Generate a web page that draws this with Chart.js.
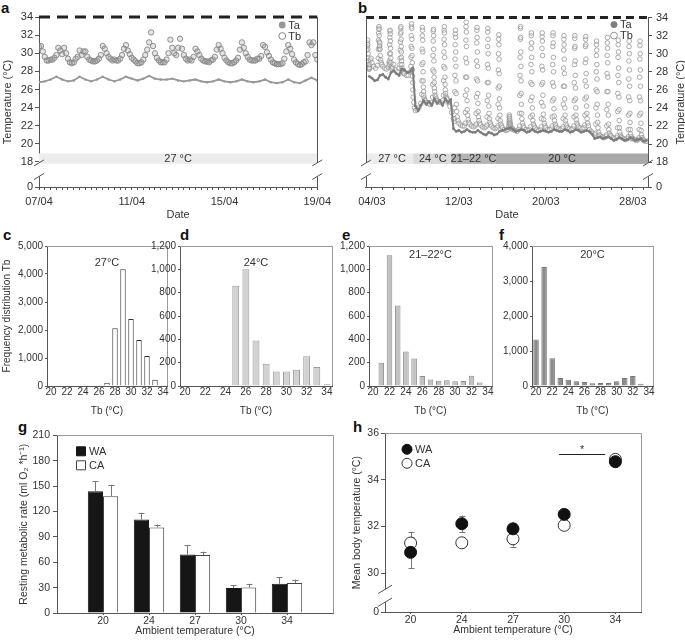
<!DOCTYPE html>
<html>
<head>
<meta charset="utf-8">
<script src="https://cdn.jsdelivr.net/npm/chart.js@4.4.1/dist/chart.umd.min.js"></script>
<style>
  body { margin: 0; background: #fff; width: 685px; height: 642px; position: relative; overflow: hidden;
         font-family: "Liberation Sans", Arial, sans-serif; }
  canvas { position: absolute; }
  .pl { position: absolute; font-weight: bold; font-size: 15px; line-height: 15px; color: #111; }
</style>
</head>
<body>
<div class="pl" style="left:1px;top:0px">a</div>
<div class="pl" style="left:358px;top:0px">b</div>
<div class="pl" style="left:3px;top:227px">c</div>
<div class="pl" style="left:180px;top:227px">d</div>
<div class="pl" style="left:342px;top:227px">e</div>
<div class="pl" style="left:499px;top:227px">f</div>
<div class="pl" style="left:18px;top:419px">g</div>
<div class="pl" style="left:353px;top:419px">h</div>
<canvas id="cA"></canvas><canvas id="cB"></canvas>
<canvas id="cC"></canvas><canvas id="cD"></canvas><canvas id="cE"></canvas><canvas id="cF"></canvas>
<canvas id="cG"></canvas><canvas id="cH"></canvas>
<script>
// ---------------- data ----------------
// a: 07/04 - 19/04 at 27 °C. Tb every 2 h, Ta every 6 h
const tbA = [
  30.7, 30.8, 30.2, 29.6, 29.2, 29.2, 29.3, 29.3, 29.5, 29.8, 30.6, 30.3,
  29.9, 30.6, 30.0, 29.4, 29.0, 28.9, 29.0, 29.4, 29.6, 30.3, 29.8, 30.2,
  30.2, 29.6, 29.3, 29.2, 29.1, 29.1, 29.2, 29.4, 29.8, 30.8, 30.5, 30.0,
  29.6, 29.4, 29.2, 29.3, 29.2, 29.2, 29.4, 29.8, 30.5, 30.9, 30.3, 29.9,
  29.5, 29.3, 29.1, 28.9, 28.9, 29.0, 29.3, 29.8, 30.4, 31.2, 32.3, 30.8,
  30.0, 29.5, 29.2, 29.0, 29.0, 29.0, 29.3, 30.0, 31.5, 30.6, 30.0, 29.8,
  30.6, 31.6, 30.5, 29.8, 29.4, 29.2, 29.3, 29.2, 29.6, 30.5, 30.2, 29.8,
  29.4, 29.2, 29.1, 29.1, 29.0, 29.2, 29.3, 29.6, 30.4, 30.9, 30.5, 30.0,
  29.5, 29.2, 29.0, 28.9, 28.9, 29.0, 29.2, 29.5, 30.4, 31.2, 30.6, 30.0,
  29.6, 29.3, 29.2, 29.2, 29.2, 29.4, 29.4, 29.7, 30.9, 30.7, 30.1, 29.7,
  29.3, 29.0, 28.9, 28.8, 28.8, 28.8, 28.9, 29.4, 30.2, 30.9, 30.5, 29.9,
  29.3, 29.0, 28.8, 28.7, 28.8, 29.0, 29.1, 29.8, 31.2, 30.9, 31.2, 29.8,
  29.3
];
const taA = [
  26.8, 26.9, 27.1, 27.4,  27.1, 26.9, 27.0, 27.4,  27.1, 26.9, 27.1, 27.4,
  27.1, 26.9, 27.1, 27.4,  27.2, 27.0, 27.2, 27.5,  27.2, 27.1, 27.1, 27.2,
  27.0, 26.9, 27.0, 27.1,  26.9, 26.8, 26.9, 27.1,  26.9, 26.8, 26.9, 27.1,
  26.9, 26.8, 26.9, 27.1,  26.8, 26.7, 26.8, 27.1,  26.8, 26.7, 27.0, 27.3,
  27.0
];

// b: 03/03 - 29/03, stepped down 27 -> 24 -> 21-22 -> 20 °C
// Tb logged at these hours of each day (denser around the daily arousal)
const tbBHours = [0, 4, 8, 12, 14, 14.3, 14.6, 14.9, 15.2, 15.5, 15.8, 16.1, 16.4, 16.7, 17.0, 17.3, 17.6, 18.0, 18.5, 19.2, 20.5, 22];
const tbBFirstDay = 3;
const tbB = [
  [null, null, null, 30.4, 30.8, 31.2, 31.5, 31.0, 30.5, 30.0, 29.5, 29.2, 28.8, 28.5, 28.4, 28.3, 28.4, 28.3, 28.5, 28.8, 29.3, 29.5],
  [29.0, 28.6, 28.4, 28.7, 29.5, 30.5, 31.5, 32.3, 32.8, 33.0, 32.7, 32.0, 31.3, 30.8, 30.5, 30.9, 31.2, 30.5, 29.8, 29.3, 29.0, 28.8],
  [28.6, 28.4, 28.3, 28.5, 29.0, 28.8, 29.2, 30.0, 31.0, 31.8, 32.5, 32.6, 32.2, 31.4, 30.6, 30.0, 29.5, 29.0, 28.6, 28.4, 28.3, 28.5],
  [28.8, 28.2, 28.0, 28.4, 28.8, 29.5, 30.4, 31.3, 32.2, 32.8, 33.0, 32.4, 31.6, 30.8, 30.2, 29.6, 29.2, 28.8, 28.4, 28.2, 28.0, 27.8],
  [27.8, 27.6, 27.6, 28.0, 28.6, 29.6, 30.8, 32.0, 33.0, 33.3, 32.8, 31.6, 30.6, 29.8, 29.0, 28.2, 27.5, 26.8, 26.0, 25.2, 24.6, 24.0],
  [23.7, 23.8, 24.0, 24.5, 25.5, 27.0, 28.8, 30.5, 32.0, 32.9, 32.6, 31.5, 30.2, 29.0, 28.0, 27.0, 26.3, 25.8, 25.4, 25.1, 24.9, 24.8],
  [24.6, 24.5, 24.4, 24.6, 25.2, 26.6, 28.2, 29.8, 31.4, 32.5, 32.7, 32.0, 30.5, 29.2, 28.0, 27.4, 26.8, 26.2, 25.8, 25.4, 25.2, 25.0],
  [24.8, 24.7, 24.6, 24.8, 25.4, 27.0, 28.6, 30.2, 31.6, 32.6, 33.0, 32.3, 31.0, 29.6, 28.4, 27.4, 26.6, 26.0, 25.6, 25.3, 25.1, 25.0],
  [24.6, 24.2, 23.5, 22.8, 22.5, 22.8, 24.0, 25.8, 27.6, 29.4, 31.0, 32.2, 32.6, 31.8, 30.2, 28.6, 27.0, 25.6, 24.4, 23.6, 23.0, 22.6],
  [22.3, 22.1, 22.0, 22.0, 22.3, 23.5, 25.4, 27.4, 29.5, 31.5, 33.0, 33.5, 32.4, 30.8, 29.0, 27.4, 26.0, 24.8, 23.8, 23.2, 22.7, 22.4],
  [22.2, 22.0, 21.9, 22.0, 22.2, 23.4, 25.2, 27.2, 29.2, 31.2, 32.6, 32.9, 31.8, 30.2, 28.6, 27.0, 25.6, 24.5, 23.6, 23.0, 22.6, 22.3],
  [22.1, 21.9, 21.8, 21.9, 22.1, 23.0, 24.8, 26.8, 28.8, 30.8, 32.4, 32.8, 31.6, 30.0, 28.4, 26.8, 25.4, 24.2, 23.4, 22.8, 22.4, 22.2],
  [22.0, 21.8, 21.7, 21.8, 22.0, 22.8, 24.4, 26.2, 28.2, 30.0, 31.6, 32.1, 31.0, 29.4, 27.8, 26.4, 25.0, 24.0, 23.2, 22.6, 22.2, 22.0],
  [21.8, 21.6, 21.5, 21.6, 21.8, 22.0, 22.3, 22.6, 23.0, 23.2, 23.0, 22.8, 22.6, 22.4, 22.3, 22.2, 22.1, 22.0, 21.9, 21.8, 21.7, 21.7],
  [21.6, 21.5, 21.4, 21.6, 22.0, 23.4, 25.4, 27.6, 29.6, 31.6, 32.8, 33.0, 31.8, 30.2, 28.6, 27.0, 25.6, 24.4, 23.4, 22.8, 22.3, 22.0],
  [21.8, 21.6, 21.5, 21.6, 21.9, 23.0, 24.8, 26.8, 28.8, 30.6, 32.0, 32.3, 31.2, 29.6, 28.0, 26.6, 25.2, 24.0, 23.2, 22.6, 22.2, 22.0],
  [21.8, 21.6, 21.5, 21.6, 21.9, 22.8, 24.6, 26.6, 28.6, 30.6, 31.9, 32.3, 31.4, 29.8, 28.2, 26.8, 25.4, 24.2, 23.3, 22.7, 22.3, 22.0],
  [21.8, 21.6, 21.6, 21.7, 22.0, 23.0, 24.8, 26.8, 28.8, 30.8, 32.0, 32.3, 31.2, 29.6, 28.0, 26.4, 25.0, 23.9, 23.1, 22.6, 22.2, 22.0],
  [21.8, 21.7, 21.6, 21.7, 21.9, 22.8, 24.4, 26.4, 28.4, 30.4, 31.6, 32.0, 31.0, 29.4, 27.8, 26.4, 25.0, 24.0, 23.2, 22.6, 22.2, 22.0],
  [21.8, 21.7, 21.6, 21.7, 22.0, 23.0, 24.8, 26.8, 28.8, 30.6, 31.7, 32.0, 30.8, 29.2, 27.6, 26.2, 25.0, 24.0, 23.2, 22.7, 22.3, 22.1],
  [21.9, 21.8, 21.7, 21.8, 22.1, 23.2, 25.0, 27.0, 29.0, 30.8, 31.6, 31.9, 31.0, 29.4, 27.8, 26.4, 25.2, 24.2, 23.4, 22.8, 22.3, 22.0],
  [21.6, 21.4, 21.2, 21.0, 21.2, 22.2, 24.0, 26.0, 28.0, 29.8, 31.0, 31.4, 30.4, 28.8, 27.2, 25.8, 24.4, 23.2, 22.4, 21.8, 21.3, 21.0],
  [20.9, 20.8, 20.7, 20.8, 21.0, 22.0, 23.8, 25.8, 27.8, 29.8, 31.2, 31.8, 30.6, 29.0, 27.4, 25.8, 24.4, 23.2, 22.2, 21.6, 21.2, 21.0],
  [20.9, 20.7, 20.6, 20.7, 20.9, 21.8, 23.6, 25.6, 27.6, 29.6, 31.0, 31.5, 30.2, 28.4, 26.8, 25.2, 23.8, 22.6, 21.8, 21.3, 21.0, 20.8],
  [20.7, 20.6, 20.5, 20.6, 20.8, 21.6, 23.2, 25.2, 27.2, 29.2, 30.8, 31.4, 30.0, 28.2, 26.4, 24.8, 23.4, 22.4, 21.6, 21.1, 20.8, 20.6],
  [20.6, 20.5, 20.4, 20.5, 20.7, 21.6, 23.2, 25.2, 27.4, 29.4, 30.9, 31.4, 30.0, 28.2, 26.4, 24.8, 23.4, 22.3, 21.5, 21.0, 20.7, 20.5],
  [20.4, 20.3, 20.3, null, null, null, null, null, null, null, null, null, null, null, null, null, null, null, null, null, null, null]
];
// Ta in b every 6 h starting 03/03 18:00
const taBStart = 3.75;
const taB = [
  27.5,
  27.3, 27.0, 27.1, 27.6,  27.7, 27.4, 27.2, 27.9,  28.1, 27.8, 27.6, 28.3,  28.2, 27.9, 28.0, 28.4,
  24.2, 23.7, 24.3, 24.8,  24.4, 24.7, 24.3, 25.0,  24.5, 24.8, 24.3, 25.0,  24.6, 24.9, 21.7, 21.4,
  21.5, 21.3, 21.4, 21.6,  21.4, 21.3, 21.3, 21.5,  21.3, 21.1, 21.0, 21.3,  21.2, 21.0, 21.1, 21.4,
  21.5, 21.6, 21.7, 21.8,  21.6, 21.4, 21.5, 21.6,  21.5, 21.3, 21.4, 21.6,  21.4, 21.3, 21.4, 21.5,
  21.4, 21.3, 21.4, 21.6,  21.5, 21.4, 21.4, 21.6,  21.5, 21.3, 21.4, 21.6,  21.5, 21.3, 21.4, 21.5,
  21.4, 21.1, 20.6, 20.7,  20.8, 20.6, 20.7, 20.8,  20.6, 20.4, 20.5, 20.7,  20.6, 20.4, 20.5, 20.7,
  20.6, 20.4, 20.5, 20.6,  20.3, 20.4
];
const tempTicks = [18, 20, 22, 24, 26, 28, 30, 32, 34];

// ambient regimes shown as the grey bar
const bandALabels = ['27 °C'], bandAFrom = [7], bandATo = [19], bandAAt = [13], bandAColors = ['#ededed'];
const bandBLabels = ['27 °C', '24 °C', '21–22 °C', '20 °C'];
const bandBFrom = [3.45, 7.8, 11.3, 15.4], bandBTo = [7.8, 11.3, 15.4, 29.4], bandBAt = [5.85, 9.6, 13.35, 21.5];
const bandBColors = ['#ececec', '#dadada', '#b3b3b3', '#a9a9a9'];

// c-f: frequency distribution of Tb
const tbBins = ['20', '21', '22', '23', '24', '25', '26', '27', '28', '29', '30', '31', '32', '33', '34'];
const freq27 = [0, 0, 0, 0, 0, 0, 0, 120, 2060, 4170, 2390, 1640, 1070, 225, 25];
const freq24 = [0, 0, 0, 0, 0, 860, 1000, 390, 190, 125, 125, 140, 255, 163, 14];
const freq21 = [0, 200, 1120, 690, 295, 235, 85, 55, 45, 50, 40, 42, 88, 30, 0];
const freq20 = [1330, 3400, 795, 230, 182, 135, 115, 78, 87, 87, 135, 230, 288, 67, 10];

// g, h: warm (WA) vs cold (CA) acclimated
const ambient = ['20', '24', '27', '30', '34'];
const rmrWA = [144, 110.5, 69, 29.5, 34.5], rmrWAErr = [11.5, 8, 11.5, 3.5, 7.5];
const rmrCA = [138, 101, 68.5, 30, 35.5], rmrCAErr = [13.5, 3.5, 4, 4.5, 4];
const tbWA = [30.89, 32.12, 31.9, 32.52, 34.78], tbWAErr = [0.68, 0.35, 0.27, 0.08, 0.08];
const tbCA = [31.29, 31.3, 31.47, 32.05, 34.88], tbCAErr = [0.47, 0.08, 0.33, 0.08, 0.08];
const sigFrom = 2.9, sigTo = 3.8, sigLevel = 35.1;

// ---------------- helpers ----------------
const FONT = '"Liberation Sans", Arial, sans-serif';
const AXIS = '#555', FRAME = '#9a9a9a', TXT = '#333';
Chart.defaults.font.family = FONT;
Chart.defaults.font.size = 10;
Chart.defaults.color = TXT;
Chart.defaults.animation = false;
Chart.defaults.plugins.legend.display = false;
Chart.defaults.plugins.tooltip.enabled = false;

function place(id, l, t, w, h) {
  const c = document.getElementById(id);
  c.width = w; c.height = h;
  Object.assign(c.style, { left: l + 'px', top: t + 'px', width: w + 'px', height: h + 'px' });
  return c;
}
const pad2 = n => String(Math.round(n)).padStart(2, '0');
const px = v => Math.round(v) + 0.5;

function drawBreak(ctx, x, y1, y2, w) {
  ctx.save();
  ctx.fillStyle = '#fff';
  ctx.fillRect(x - 2, y1, 4, y2 - y1);
  ctx.strokeStyle = AXIS; ctx.lineWidth = 1;
  [y1, y2].forEach(y => {
    ctx.beginPath(); ctx.moveTo(x - w, y + w * 0.6); ctx.lineTo(x + w, y - w * 0.6); ctx.stroke();
  });
  ctx.restore();
}

function frame(ctx, ca, sides) {
  ctx.save();
  ctx.strokeStyle = FRAME; ctx.lineWidth = 1;
  ctx.beginPath();
  if (sides.includes('top')) { ctx.moveTo(ca.left, px(ca.top)); ctx.lineTo(ca.right, px(ca.top)); }
  if (sides.includes('right')) { ctx.moveTo(px(ca.right), ca.top); ctx.lineTo(px(ca.right), ca.bottom); }
  ctx.stroke();
  ctx.restore();
}

// ---------------- a, b : temperature traces ----------------
const Y_BREAK = 15.24;   // where "0" sits below the axis break
const BAND_LO = 17.8, BAND_HI = 18.95;

function tempAxis(position, width) {
  return {
    type: 'linear', position, min: Y_BREAK, max: 34,
    afterBuildTicks: s => { s.ticks = [Y_BREAK, ...tempTicks].map(value => ({ value })); },
    afterFit: s => { s.width = width; },
    border: { color: AXIS },
    grid: { drawOnChartArea: false, color: AXIS, tickLength: 4 },
    ticks: { padding: position === 'left' ? 2 : 4, font: { size: 11 }, callback: v => v === Y_BREAK ? '0' : v },
    title: { display: position === 'left', text: 'Temperature (°C)', font: { size: 11 }, padding: { top: 1, bottom: 0 } }
  };
}

function timeAxis(min, max, step, major, suffix) {
  return {
    type: 'linear', min, max,
    afterBuildTicks: s => {
      const t = [];
      for (let d = Math.ceil(min / step) * step; d <= max + 1e-6; d += step) t.push({ value: +d.toFixed(3) });
      s.ticks = t;
    },
    afterFit: s => { s.height = 36; },
    border: { color: AXIS },
    grid: { drawOnChartArea: false, color: AXIS, tickLength: 3 },
    ticks: { autoSkip: false, maxRotation: 0, padding: 5, font: { size: 11 },
             callback: v => major.includes(v) ? pad2(v) + suffix : '' },
    title: { display: true, text: 'Date', font: { size: 11 }, padding: { top: 0, bottom: 1 } }
  };
}

function tempDeco(cfg) {
  return {
    id: 'tempDeco',
    beforeDatasetsDraw(chart) {
      const { ctx, scales: { x, y } } = chart;
      const yt = y.getPixelForValue(BAND_HI), yb = y.getPixelForValue(BAND_LO);
      ctx.save();
      cfg.from.forEach((f, i) => {
        const x0 = x.getPixelForValue(f), x1 = x.getPixelForValue(cfg.to[i]);
        ctx.fillStyle = cfg.colors[i];
        ctx.fillRect(x0, yt, x1 - x0, yb - yt);
      });
      ctx.fillStyle = TXT; ctx.font = '11px ' + FONT; ctx.textAlign = 'center'; ctx.textBaseline = 'middle';
      cfg.labels.forEach((t, i) => ctx.fillText(t, x.getPixelForValue(cfg.at[i]), (yt + yb) / 2 + 0.5));
      ctx.restore();
    },
    afterDatasetsDraw(chart) {
      const { ctx, chartArea: ca, scales: { y } } = chart;
      ctx.save();
      // light/dark bar along the top
      const yTop = y.getPixelForValue(34);
      ctx.strokeStyle = '#222'; ctx.lineWidth = 3; ctx.setLineDash(cfg.dash);
      ctx.beginPath(); ctx.moveTo(ca.left, yTop); ctx.lineTo(ca.right, yTop); ctx.stroke();
      ctx.setLineDash([]);
      // plain frame on the side without ticks
      const xs = px(cfg.axisSide === 'left' ? ca.right : ca.left);
      ctx.strokeStyle = AXIS; ctx.lineWidth = 1;
      ctx.beginPath(); ctx.moveTo(xs, yTop); ctx.lineTo(xs, ca.bottom); ctx.stroke();
      [ca.left, ca.right].forEach(xb => drawBreak(ctx, xb, y.getPixelForValue(17.9), y.getPixelForValue(16.4), 5));
      // legend
      const lx = ca.right - cfg.legDx, ly = ca.top + cfg.legDy;
      const [ta, tb] = chart.data.datasets;
      ctx.font = '11px ' + FONT; ctx.textAlign = 'left'; ctx.textBaseline = 'middle';
      ctx.fillStyle = ta.pointBackgroundColor;
      ctx.beginPath(); ctx.arc(lx, ly, 3.4, 0, 2 * Math.PI); ctx.fill();
      ctx.fillStyle = '#fff'; ctx.strokeStyle = tb.borderColor; ctx.lineWidth = 1;
      ctx.beginPath(); ctx.arc(lx, ly + 11, 3.4, 0, 2 * Math.PI); ctx.fill(); ctx.stroke();
      ctx.fillStyle = TXT;
      ctx.fillText(ta.label, lx + 6, ly + 0.5);
      ctx.fillText(tb.label, lx + 6, ly + 11.5);
      // right-hand axis title reads bottom to top, like the left one
      if (cfg.rightTitle) {
        ctx.translate(cfg.rightTitleX, (ca.top + ca.bottom) / 2);
        ctx.rotate(-Math.PI / 2);
        ctx.textAlign = 'center';
        ctx.fillText(cfg.rightTitle, 0, 0);
      }
      ctx.restore();
    }
  };
}

// a
new Chart(place('cA', 0, 7, 336, 216), {
  type: 'scatter',
  data: { datasets: [
    { label: 'Ta', data: taA.map((v, i) => ({ x: 7 + i * 0.25, y: v })), showLine: true,
      borderColor: '#979797', borderWidth: 1.8, pointRadius: 1.2, pointBorderWidth: 0, pointBackgroundColor: '#979797' },
    { label: 'Tb', data: tbA.map((v, i) => ({ x: 7 + i / 12, y: v })),
      pointRadius: 2.7, borderColor: '#848484', borderWidth: 0.9, backgroundColor: 'rgba(150,150,150,0.25)' }
  ] },
  options: {
    responsive: false,
    layout: { padding: { top: 10, right: 8, left: 0, bottom: 0 } },
    scales: { x: timeAxis(7, 19, 0.25, [7, 11, 15, 19], '/04'), y: tempAxis('left', 39) }
  },
  plugins: [tempDeco({ from: bandAFrom, to: bandATo, at: bandAAt, labels: bandALabels, colors: bandAColors,
                       dash: [11, 7], axisSide: 'left', legDx: 35, legDy: 8 })]
});

// b
const tbBPoints = [];
tbB.forEach((row, d) => row.forEach((v, j) => {
  if (v !== null) tbBPoints.push({ x: tbBFirstDay + d + tbBHours[j] / 24, y: v });
}));
new Chart(place('cB', 353, 7, 332, 216), {
  type: 'scatter',
  data: { datasets: [
    { label: 'Ta', data: taB.map((v, i) => ({ x: taBStart + i * 0.25, y: v })), showLine: true,
      borderColor: '#7d7d7d', borderWidth: 2, pointRadius: 1.4, pointBorderWidth: 0, pointBackgroundColor: '#7d7d7d' },
    { label: 'Tb', data: tbBPoints,
      pointRadius: 2.3, borderColor: '#959595', borderWidth: 0.8, backgroundColor: 'rgba(255,255,255,0.3)' }
  ] },
  options: {
    responsive: false,
    layout: { padding: { top: 10, right: 0, left: 8, bottom: 0 } },
    scales: { x: timeAxis(3.45, 29.4, 1, [4, 12, 20, 28], '/03'), y: tempAxis('right', 37) }
  },
  plugins: [tempDeco({ from: bandBFrom, to: bandBTo, at: bandBAt, labels: bandBLabels, colors: bandBColors,
                       dash: [8, 5], axisSide: 'right', legDx: 34, legDy: 7,
                       rightTitle: 'Temperature (°C)', rightTitleX: 328 })]
});

// ---------------- c-f : histograms ----------------
function hist(id, box, yW, counts, ymax, ystep, fill, edge, title, titleDy, yTitle) {
  new Chart(place(id, box[0], box[1], box[2], box[3]), {
    type: 'bar',
    data: { labels: tbBins, datasets: [{ data: counts, backgroundColor: fill, borderColor: edge, borderWidth: 1,
                                          barPercentage: 0.68, categoryPercentage: 1 }] },
    options: {
      responsive: false,
      layout: { padding: { top: 8, right: 3, left: 0, bottom: 0 } },
      scales: {
        x: { afterFit: s => { s.height = 32; }, border: { color: AXIS },
             grid: { drawOnChartArea: false, drawTicks: false },
             ticks: { autoSkip: false, maxRotation: 0, padding: 0, callback: (v, i) => i % 2 ? '' : tbBins[i] },
             title: { display: true, text: 'Tb (°C)', padding: { top: 0, bottom: 1 } } },
        y: { min: 0, max: ymax, afterFit: s => { s.width = yW; }, border: { color: AXIS },
             grid: { drawOnChartArea: false, color: AXIS, tickLength: 2 },
             ticks: { stepSize: ystep, padding: 2, callback: v => v.toLocaleString('en-US') },
             title: { display: !!yTitle, text: yTitle, padding: { top: 1, bottom: 0 } } }
      }
    },
    plugins: [{
      id: 'histDeco',
      afterDraw(chart) {
        const { ctx, chartArea: ca } = chart;
        frame(ctx, ca, ['top', 'right']);
        ctx.save();
        ctx.fillStyle = TXT; ctx.font = '11px ' + FONT; ctx.textAlign = 'center'; ctx.textBaseline = 'middle';
        ctx.fillText(title, (ca.left + ca.right) / 2, ca.top + titleDy);
        ctx.restore();
      }
    }]
  });
}
hist('cC', [0, 238, 170, 180], 47, freq27, 5000, 1000, '#ffffff', '#333', '27°C', 17, 'Frequency distribution Tb');
hist('cD', [150, 238, 185, 180], 30, freq24, 1200, 200, '#d2d2d2', '#999', '24°C', 17, '');
hist('cE', [339, 238, 156, 180], 30, freq21, 1200, 200, '#c2c2c2', '#8c8c8c', '21–22°C', 9, '');
hist('cF', [502, 238, 154, 180], 30, freq20, 4000, 1000, '#8c8c8c', '#777', '20°C', 9, '');

// ---------------- g : resting metabolic rate ----------------
function errorBars(beforeMarks) {
  const draw = chart => {
    const { ctx, scales: { y } } = chart;
    ctx.save();
    ctx.strokeStyle = '#777'; ctx.lineWidth = 1;
    chart.data.datasets.forEach((ds, d) => {
      chart.getDatasetMeta(d).data.forEach((el, i) => {
        const v = typeof ds.data[i] === 'object' ? ds.data[i].y : ds.data[i];
        const e = ds.errors[i];
        const yHi = y.getPixelForValue(v + e), yLo = y.getPixelForValue(v - e);
        const x = px(el.x);
        ctx.beginPath();
        ctx.moveTo(x, beforeMarks ? yLo : el.y); ctx.lineTo(x, yHi);
        ctx.moveTo(x - 3, px(yHi)); ctx.lineTo(x + 3, px(yHi));
        if (beforeMarks) { ctx.moveTo(x - 3, px(yLo)); ctx.lineTo(x + 3, px(yLo)); }
        ctx.stroke();
      });
    });
    ctx.restore();
  };
  return beforeMarks ? { id: 'errBefore', beforeDatasetsDraw: draw } : { id: 'errAfter', afterDatasetsDraw: draw };
}

function legendBox(ctx, x, y, items) {
  ctx.save();
  ctx.font = '11px ' + FONT; ctx.textAlign = 'left'; ctx.textBaseline = 'middle';
  items.forEach((it, k) => {
    const yy = y + k * 14;
    ctx.fillStyle = it.fill; ctx.strokeStyle = it.edge; ctx.lineWidth = 1;
    ctx.beginPath();
    if (it.shape === 'circle') ctx.arc(x, yy, 5, 0, 2 * Math.PI);
    else ctx.rect(x - 4.5, yy - 4.5, 9, 9);
    ctx.fill(); ctx.stroke();
    ctx.fillStyle = TXT;
    ctx.fillText(it.label, x + 8, yy + 0.5);
  });
  ctx.restore();
}

const xTitleAmb = { display: true, text: 'Ambient temperature (°C)', font: { size: 10.5 }, padding: { top: 0, bottom: 1 } };

new Chart(place('cG', 0, 426, 336, 212), {
  type: 'bar',
  data: { datasets: [
    { label: 'WA', data: rmrWA.map((v, i) => ({ x: i + 1, y: v })), errors: rmrWAErr,
      backgroundColor: '#161616', borderColor: '#161616', borderWidth: 1 },
    { label: 'CA', data: rmrCA.map((v, i) => ({ x: i + 1, y: v })), errors: rmrCAErr,
      backgroundColor: '#ffffff', borderColor: '#444', borderWidth: 1 }
  ] },
  options: {
    responsive: false,
    datasets: { bar: { categoryPercentage: 0.66, barPercentage: 1 } },
    layout: { padding: { top: 8, right: 3, left: 0, bottom: 0 } },
    scales: {
      x: { type: 'linear', offset: false, min: 0, max: ambient.length + 1, afterFit: s => { s.height = 25; },
           afterBuildTicks: s => { s.ticks = ambient.map((a, i) => ({ value: i + 1 })); },
           border: { color: AXIS }, grid: { drawOnChartArea: false, offset: false, color: AXIS, tickLength: 2 },
           ticks: { padding: 0, font: { size: 10.5 }, callback: v => ambient[v - 1] },
           title: xTitleAmb },
      y: { min: 0, max: 210, afterFit: s => { s.width = 57; }, border: { color: AXIS },
           grid: { drawOnChartArea: false, color: AXIS, tickLength: 4 },
           ticks: { stepSize: 30, padding: 3, font: { size: 10.5 } },
           title: { display: true, text: 'Resting metabolic rate (ml O₂ *h⁻¹)', font: { size: 10.5 }, padding: { top: 18, bottom: 0 } } }
    }
  },
  plugins: [errorBars(false), {
    id: 'gDeco',
    afterDraw(chart) {
      const { ctx, chartArea: ca, data } = chart;
      frame(ctx, ca, ['top', 'right']);
      legendBox(ctx, ca.left + 24, ca.top + 16, data.datasets.map(ds => ({
        label: ds.label, shape: 'square', fill: ds.backgroundColor, edge: ds.borderColor })));
    }
  }]
});

// ---------------- h : mean body temperature ----------------
const H_BREAK = 28.33;
new Chart(place('cH', 350, 425, 298, 212), {
  type: 'line',
  data: { labels: ambient, datasets: [
    { label: 'WA', data: tbWA, errors: tbWAErr, showLine: false, pointRadius: 6,
      pointBackgroundColor: '#111', pointBorderColor: '#111', pointBorderWidth: 1 },
    { label: 'CA', data: tbCA, errors: tbCAErr, showLine: false, pointRadius: 6,
      pointBackgroundColor: '#fff', pointBorderColor: '#333', pointBorderWidth: 1 }
  ] },
  options: {
    responsive: false,
    layout: { padding: { top: 8, right: 3, left: 0, bottom: 0 } },
    scales: {
      x: { type: 'category', offset: true, afterFit: s => { s.height = 25; },
           border: { color: AXIS }, grid: { drawOnChartArea: false, offset: false, color: AXIS, tickLength: 2 },
           ticks: { padding: 0, font: { size: 10.5 } },
           title: xTitleAmb },
      y: { min: H_BREAK, max: 36, afterFit: s => { s.width = 35; },
           afterBuildTicks: s => { s.ticks = [H_BREAK, 30, 32, 34, 36].map(value => ({ value })); },
           border: { color: AXIS }, grid: { drawOnChartArea: false, color: AXIS, tickLength: 4 },
           ticks: { padding: 2, font: { size: 10.5 }, callback: v => v === H_BREAK ? '0' : v },
           title: { display: true, text: 'Mean body temperature (°C)', font: { size: 10.5 }, padding: { top: 1, bottom: 0 } } }
    }
  },
  plugins: [errorBars(true), {
    id: 'hDeco',
    afterDraw(chart) {
      const { ctx, chartArea: ca, scales: { x, y }, data } = chart;
      frame(ctx, ca, ['top', 'right']);
      drawBreak(ctx, ca.left, y.getPixelForValue(29.3), y.getPixelForValue(28.75), 7);
      // significance bar 30 vs 34
      ctx.save();
      ctx.strokeStyle = '#222'; ctx.lineWidth = 1;
      const ys = px(y.getPixelForValue(sigLevel));
      ctx.beginPath(); ctx.moveTo(x.getPixelForValue(sigFrom), ys); ctx.lineTo(x.getPixelForValue(sigTo), ys); ctx.stroke();
      ctx.fillStyle = TXT; ctx.font = '11px ' + FONT; ctx.textAlign = 'center'; ctx.textBaseline = 'bottom';
      ctx.fillText('*', x.getPixelForValue((sigFrom + sigTo) / 2), ys + 1);
      ctx.restore();
      legendBox(ctx, ca.left + 22, ca.top + 16, data.datasets.map(ds => ({
        label: ds.label, shape: 'circle', fill: ds.pointBackgroundColor, edge: ds.pointBorderColor })));
    }
  }]
});
</script>
</body>
</html>
